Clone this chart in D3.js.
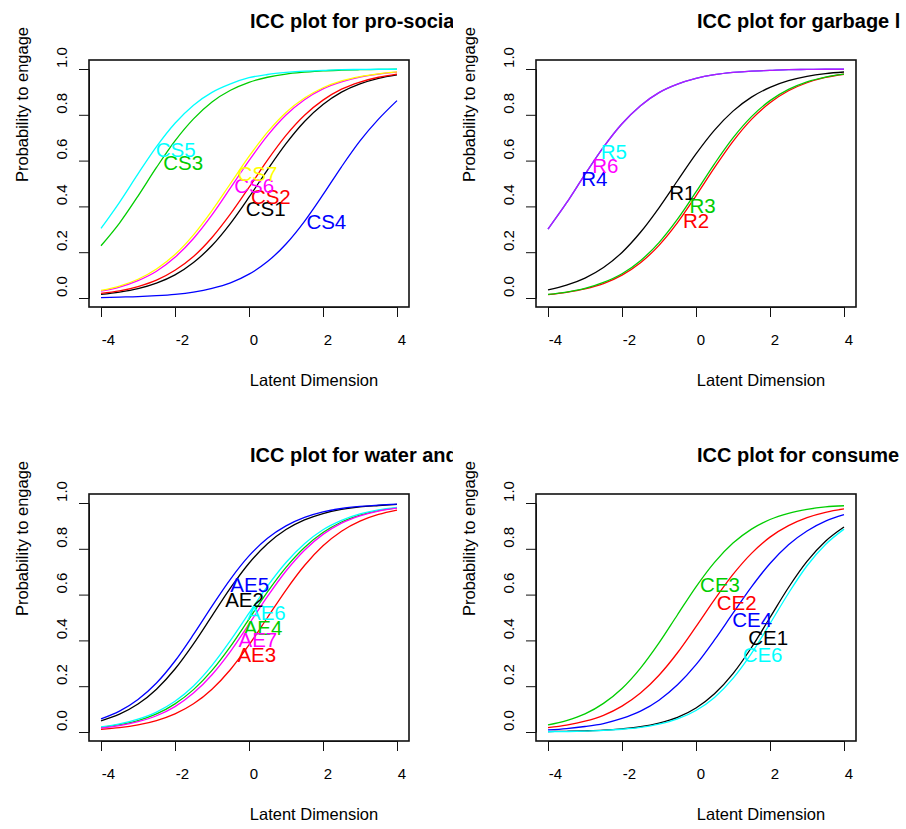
<!DOCTYPE html>
<html>
<head>
<meta charset="utf-8">
<script src="https://cdn.jsdelivr.net/npm/d3@7"></script>
<style>
  body { margin: 0; background: #fff; }
  text { font-family: "Liberation Sans", Arial, sans-serif; }
</style>
</head>
<body>
<script>
let thetaGrid = [-4, -3.5, -3, -2.5, -2, -1.5, -1, -0.5, 0, 0.5, 1, 1.5, 2, 2.5, 3, 3.5, 4];

let xTicks = [-4, -2, 0, 2, 4];
let yTicks = [0, 0.2, 0.4, 0.6, 0.8, 1.0];

let panelTitles = [
    "ICC plot for pro-social behaviour",
    "ICC plot for garbage littering",
    "ICC plot for water and energy",
    "ICC plot for consumer engagement"
];

// pro-social items
let proSocialItems = ["CS1", "CS2", "CS3", "CS4", "CS5", "CS6", "CS7"];
let CS1 = [0.016, 0.026, 0.041, 0.065, 0.101, 0.155, 0.229, 0.326, 0.440, 0.560, 0.674, 0.771, 0.845, 0.899, 0.935, 0.959, 0.974];
let CS2 = [0.020, 0.031, 0.050, 0.078, 0.121, 0.181, 0.264, 0.367, 0.483, 0.602, 0.710, 0.798, 0.864, 0.912, 0.943, 0.964, 0.978];
let CS3 = [0.228, 0.327, 0.445, 0.570, 0.686, 0.782, 0.856, 0.907, 0.942, 0.964, 0.978, 0.986, 0.992, 0.995, 0.997, 0.998, 0.999];
let CS4 = [0.002, 0.004, 0.006, 0.010, 0.016, 0.026, 0.042, 0.066, 0.104, 0.159, 0.236, 0.335, 0.451, 0.573, 0.686, 0.781, 0.862];
let CS5 = [0.304, 0.418, 0.542, 0.661, 0.763, 0.842, 0.898, 0.935, 0.962, 0.976, 0.985, 0.991, 0.994, 0.997, 0.998, 0.999, 0.999];
let CS6 = [0.030, 0.048, 0.076, 0.117, 0.178, 0.260, 0.363, 0.481, 0.600, 0.709, 0.799, 0.866, 0.913, 0.944, 0.965, 0.978, 0.986];
let CS7 = [0.033, 0.052, 0.082, 0.127, 0.190, 0.276, 0.382, 0.500, 0.618, 0.724, 0.810, 0.873, 0.918, 0.948, 0.967, 0.979, 0.987];
let proSocialLabelX = [0.45, 0.59, -1.78, 2.09, -1.98, 0.14, 0.23];
let proSocialLabelY = [0.389, 0.442, 0.591, 0.333, 0.646, 0.489, 0.541];

// garbage items
let garbageItems = ["R1", "R2", "R3", "R4", "R5", "R6"];
let R1 = [0.035, 0.056, 0.087, 0.133, 0.199, 0.287, 0.394, 0.512, 0.629, 0.733, 0.816, 0.877, 0.920, 0.949, 0.968, 0.980, 0.987];
let R2 = [0.015, 0.025, 0.040, 0.063, 0.100, 0.154, 0.230, 0.329, 0.446, 0.569, 0.684, 0.780, 0.853, 0.905, 0.940, 0.963, 0.977];
let R3 = [0.016, 0.026, 0.042, 0.068, 0.106, 0.163, 0.242, 0.344, 0.463, 0.586, 0.699, 0.792, 0.862, 0.911, 0.944, 0.965, 0.978];
let R4 = [0.301, 0.415, 0.540, 0.659, 0.761, 0.840, 0.897, 0.934, 0.959, 0.975, 0.985, 0.991, 0.994, 0.997, 0.998, 0.999, 0.999];
let R5 = [0.301, 0.415, 0.540, 0.659, 0.761, 0.840, 0.897, 0.934, 0.959, 0.975, 0.985, 0.991, 0.994, 0.997, 0.998, 0.999, 0.999];
let R6 = [0.301, 0.415, 0.540, 0.659, 0.761, 0.840, 0.897, 0.934, 0.959, 0.975, 0.985, 0.991, 0.994, 0.997, 0.998, 0.999, 0.999];
let garbageLabelX = [-0.37, 0.0, 0.18, -2.75, -2.22, -2.45];
let garbageLabelY = [0.457, 0.338, 0.402, 0.52, 0.636, 0.577];

// water and energy items
let waterItems = ["AE2", "AE3", "AE4", "AE5", "AE6", "AE7"];
let AE2 = [0.049, 0.078, 0.122, 0.187, 0.275, 0.385, 0.507, 0.629, 0.737, 0.822, 0.884, 0.926, 0.954, 0.972, 0.983, 0.989, 0.994];
let AE3 = [0.012, 0.019, 0.031, 0.050, 0.079, 0.123, 0.187, 0.273, 0.380, 0.500, 0.620, 0.727, 0.813, 0.877, 0.921, 0.950, 0.969];
let AE4 = [0.020, 0.032, 0.050, 0.079, 0.123, 0.185, 0.269, 0.374, 0.493, 0.612, 0.719, 0.806, 0.871, 0.917, 0.947, 0.967, 0.979];
let AE5 = [0.057, 0.091, 0.142, 0.214, 0.310, 0.426, 0.550, 0.668, 0.769, 0.846, 0.900, 0.937, 0.961, 0.976, 0.985, 0.991, 0.995];
let AE6 = [0.022, 0.035, 0.056, 0.087, 0.134, 0.201, 0.291, 0.400, 0.519, 0.637, 0.740, 0.822, 0.883, 0.924, 0.952, 0.970, 0.981];
let AE7 = [0.017, 0.028, 0.045, 0.071, 0.111, 0.170, 0.250, 0.352, 0.471, 0.592, 0.703, 0.794, 0.863, 0.912, 0.944, 0.965, 0.978];
let waterLabelX = [-0.12, 0.21, 0.38, 0.02, 0.47, 0.24];
let waterLabelY = [0.578, 0.335, 0.456, 0.64, 0.52, 0.40];

// consumer items
let consumerItems = ["CE1", "CE2", "CE3", "CE4", "CE6"];
let CE1 = [0.002, 0.003, 0.005, 0.008, 0.014, 0.023, 0.039, 0.064, 0.105, 0.167, 0.255, 0.369, 0.500, 0.631, 0.745, 0.833, 0.895];
let CE2 = [0.019, 0.030, 0.047, 0.073, 0.113, 0.170, 0.248, 0.346, 0.460, 0.578, 0.688, 0.780, 0.851, 0.901, 0.936, 0.959, 0.974];
let CE3 = [0.031, 0.050, 0.079, 0.125, 0.190, 0.279, 0.389, 0.512, 0.634, 0.741, 0.825, 0.886, 0.928, 0.955, 0.972, 0.983, 0.988];
let CE4 = [0.009, 0.015, 0.024, 0.037, 0.059, 0.091, 0.139, 0.206, 0.294, 0.402, 0.519, 0.634, 0.736, 0.818, 0.878, 0.921, 0.949];
let CE6 = [0.001, 0.002, 0.004, 0.007, 0.012, 0.020, 0.034, 0.057, 0.094, 0.151, 0.234, 0.343, 0.473, 0.606, 0.726, 0.819, 0.886];
let consumerLabelX = [1.95, 1.1, 0.65, 1.52, 1.8];
let consumerLabelY = [0.41, 0.563, 0.64, 0.488, 0.335];

// R default palette order
let itemColours = ["#000000", "#FF0000", "#00CD00", "#0000FF", "#00FFFF", "#FF00FF", "#FFFF00"];

let panels = [
    { title: panelTitles[0], items: proSocialItems, probs: [CS1, CS2, CS3, CS4, CS5, CS6, CS7], lx: proSocialLabelX, ly: proSocialLabelY, ox: 0, oy: 0 },
    { title: panelTitles[1], items: garbageItems, probs: [R1, R2, R3, R4, R5, R6], lx: garbageLabelX, ly: garbageLabelY, ox: 447, oy: 0 },
    { title: panelTitles[2], items: waterItems, probs: [AE2, AE3, AE4, AE5, AE6, AE7], lx: waterLabelX, ly: waterLabelY, ox: 0, oy: 434 },
    { title: panelTitles[3], items: consumerItems, probs: [CE1, CE2, CE3, CE4, CE6], lx: consumerLabelX, ly: consumerLabelY, ox: 447, oy: 434 }
];

// R4/R5/R6 lie on top of each other and read as purple
let lineOpacity = { R5: 0.3, R6: 0.7 };

let svgWidth = 906;
let svgHeight = 829;

let svg = d3.select("body")
    .append("svg")
    .attr("width", svgWidth)
    .attr("height", svgHeight);

svg.append("rect")
    .attr("width", svgWidth)
    .attr("height", svgHeight)
    .attr("fill", "#fff");

let defs = svg.append("defs");

// scales shared by every panel (local coordinates)
let xScale = d3.scaleLinear().domain([-4, 4]).range([101, 397]);
let yScale = d3.scaleLinear().domain([0, 1]).range([298, 69]);

let line = d3.line()
    .x(d => xScale(d[0]))
    .y(d => yScale(d[1]))
    .curve(d3.curveMonotoneX);

panels.forEach(function(p, i) {
    defs.append("clipPath")
        .attr("id", "clip" + i)
        .append("rect")
        .attr("x", -5)
        .attr("y", -5)
        .attr("width", 458)
        .attr("height", 440);

    let g = svg.append("g")
        .attr("transform", `translate(${p.ox}, ${p.oy})`)
        .attr("clip-path", `url(#clip${i})`);

    // title (clipped at the panel edge like the original)
    g.append("text")
        .attr("x", 250)
        .attr("y", 28)
        .attr("font-size", 20)
        .attr("font-weight", "bold")
        .attr("fill", "#000")
        .text(p.title);

    // curves
    p.probs.forEach(function(vals, j) {
        let pts = thetaGrid.map((t, k) => [t, vals[k]]);
        g.append("path")
            .datum(pts)
            .attr("d", line)
            .attr("fill", "none")
            .attr("stroke", itemColours[j])
            .attr("stroke-width", 1.3)
            .attr("stroke-opacity", lineOpacity[p.items[j]] || 1);
    });

    // item labels
    p.items.forEach(function(name, j) {
        g.append("text")
            .attr("x", xScale(p.lx[j]))
            .attr("y", yScale(p.ly[j]) + 7)
            .attr("text-anchor", "middle")
            .attr("font-size", 20.5)
            .attr("fill", itemColours[j])
            .text(name);
    });

    // plot box
    g.append("rect")
        .attr("x", 89)
        .attr("y", 60)
        .attr("width", 320)
        .attr("height", 247)
        .attr("fill", "none")
        .attr("stroke", "#111")
        .attr("stroke-width", 1.6);

    // x axis
    let xAxis = g.append("g")
        .attr("transform", "translate(0, 307)")
        .call(d3.axisBottom(xScale).tickValues(xTicks).tickSize(10).tickSizeOuter(0).tickFormat(d3.format("d")));
    xAxis.select(".domain").attr("stroke", "#111");
    xAxis.selectAll(".tick line").attr("stroke", "#111");
    xAxis.selectAll("text")
        .attr("y", 38)
        .attr("dy", 0)
        .attr("x", d => d < 0 ? 7 : 4.5)
        .attr("font-size", 15)
        .attr("font-family", "Liberation Sans, Arial, sans-serif")
        .attr("fill", "#000")
        .text(d => d < 0 ? "-" + Math.abs(d) : d);

    // y axis
    let yAxis = g.append("g")
        .attr("transform", "translate(89, 0)")
        .call(d3.axisLeft(yScale).tickValues(yTicks).tickSize(10).tickSizeOuter(0).tickFormat(d3.format(".1f")));
    yAxis.select(".domain").attr("stroke", "#111");
    yAxis.selectAll(".tick line").attr("stroke", "#111");
    yAxis.selectAll("text")
        .attr("x", 0)
        .attr("dy", 0)
        .attr("text-anchor", "middle")
        .attr("transform", "translate(-22, -12) rotate(-90)")
        .attr("font-size", 15)
        .attr("font-family", "Liberation Sans, Arial, sans-serif")
        .attr("fill", "#000");

    // axis titles
    g.append("text")
        .attr("x", 314)
        .attr("y", 386)
        .attr("text-anchor", "middle")
        .attr("font-size", 16.5)
        .attr("fill", "#000")
        .text("Latent Dimension");

    g.append("text")
        .attr("transform", "translate(28, 104.5) rotate(-90)")
        .attr("text-anchor", "middle")
        .attr("font-size", 16.5)
        .attr("fill", "#000")
        .text("Probability to engage");
});
</script>
</body>
</html>
